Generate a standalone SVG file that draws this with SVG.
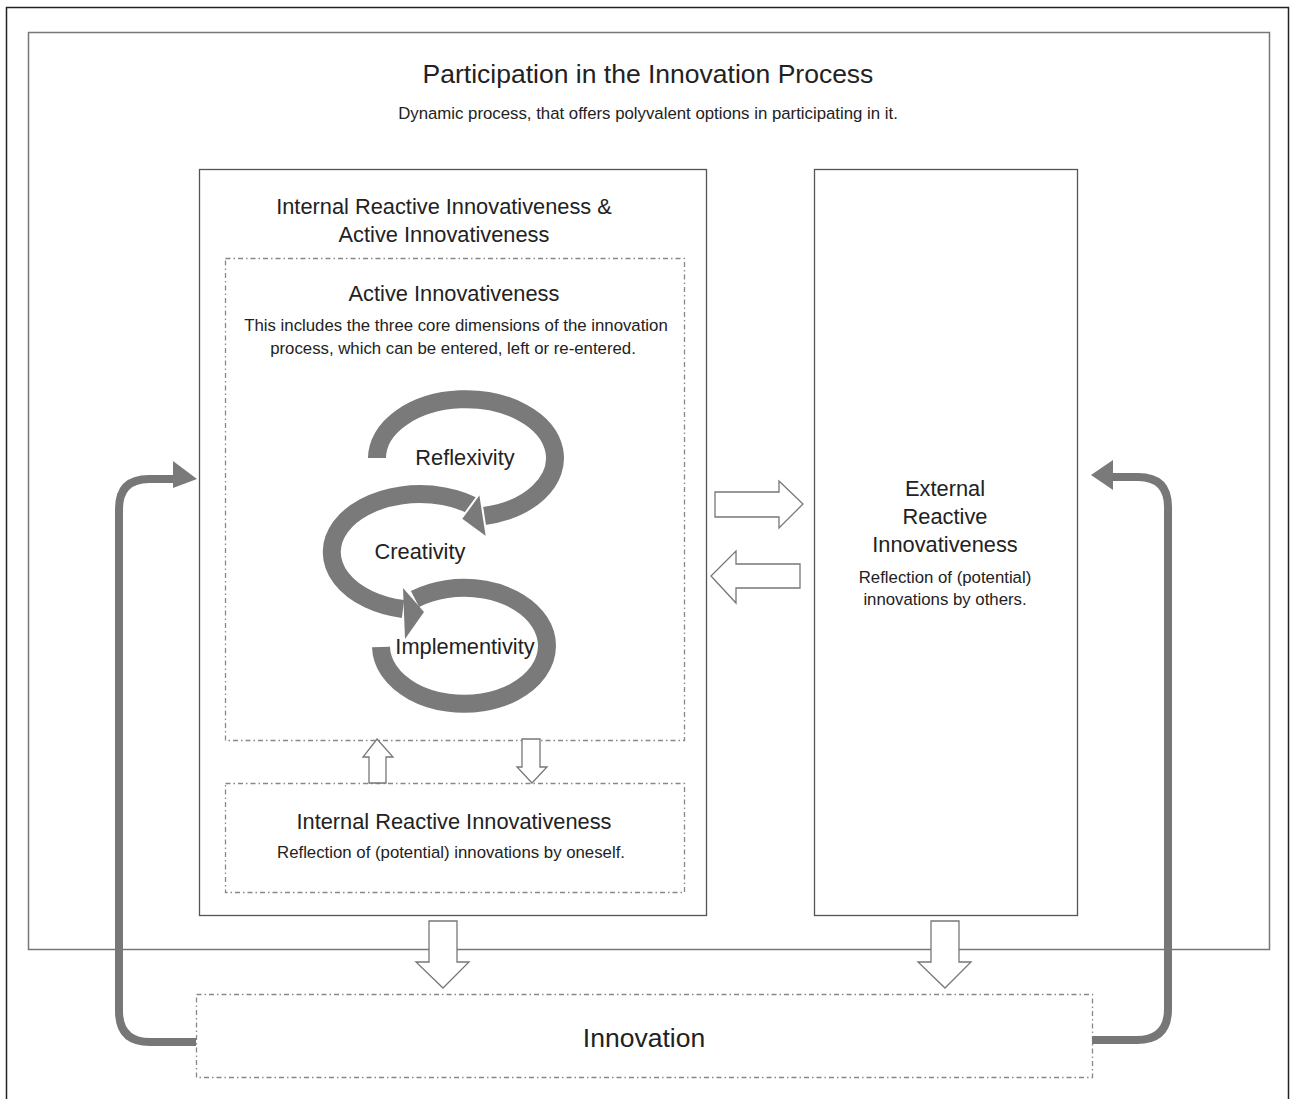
<svg xmlns="http://www.w3.org/2000/svg" width="1290" height="1099" viewBox="0 0 1290 1099">
<style>
text{font-family:"Liberation Sans",Arial,sans-serif;fill:#222;text-anchor:middle}
.t24{font-size:26.5px}
.t20{font-size:21.8px}
.t15{font-size:16.8px}
.box{fill:#fff;stroke:#555;stroke-width:1.3}
.dash{fill:none;stroke:#888;stroke-width:1.3;stroke-dasharray:5 3 1.5 3}
.blk{fill:#fff;stroke:#777;stroke-width:1.3;stroke-linejoin:miter}
.spiral{fill:none;stroke:#7a7a7a;stroke-width:18}
.head{fill:#7a7a7a}
.loop{fill:none;stroke:#777;stroke-width:8;stroke-linejoin:round}
</style>
<rect x="0" y="0" width="1290" height="1099" fill="#fff"/>
<path d="M6.5 1099 V7.5 H1288.5 V1099" fill="none" stroke="#222" stroke-width="1.5"/>
<g id="process">
<rect x="28.5" y="32.5" width="1241" height="917" fill="#fff" stroke="#777" stroke-width="1.5"/>
<text class="t24" x="648" y="83">Participation in the Innovation Process</text>
<text class="t15" x="648" y="119">Dynamic process, that offers polyvalent options in participating in it.</text>
</g>
<g id="internal-active">
<rect class="box" x="199.5" y="169.5" width="507" height="746"/>
<text class="t20" x="444" y="214">Internal Reactive Innovativeness &amp;</text>
<text class="t20" x="444" y="242">Active Innovativeness</text>
</g>
<g id="active">
<rect class="dash" x="225.5" y="258.5" width="459" height="482"/>
<text class="t20" x="454" y="301">Active Innovativeness</text>
<text class="t15" x="456" y="331">This includes the three core dimensions of the innovation</text>
<text class="t15" x="453" y="354">process, which can be entered, left or re-entered.</text>
</g>
<g id="spiral">
<path class="spiral" d="M477 508 A88 58 0 1 0 403 609"/>
<path class="spiral" d="M377 458 A89 59 0 1 1 484 516"/>
<polygon class="head" points="480,493 487,538 461,519" stroke="#fff" stroke-width="2"/>
<polygon class="head" points="403,588 405,639 424,612"/>
<path class="spiral" d="M415 599 A83 58 0 1 1 381 647"/>
<text class="t20" x="465" y="465">Reflexivity</text>
<text class="t20" x="420" y="559">Creativity</text>
<text class="t20" x="465" y="654">Implementivity</text>
</g>
<g id="internal-reactive">
<rect class="dash" x="225.5" y="783.5" width="459" height="109"/>
<text class="t20" x="454" y="829">Internal Reactive Innovativeness</text>
<text class="t15" x="451" y="858">Reflection of (potential) innovations by oneself.</text>
</g>
<g id="external">
<rect class="box" x="814.5" y="169.5" width="263" height="746"/>
<text class="t20" x="945" y="496">External</text>
<text class="t20" x="945" y="524">Reactive</text>
<text class="t20" x="945" y="552">Innovativeness</text>
<text class="t15" x="945" y="583">Reflection of (potential)</text>
<text class="t15" x="945" y="605">innovations by others.</text>
</g>
<g id="innovation">
<rect class="dash" x="196.5" y="994.5" width="896" height="83" fill="#fff"/>
<text class="t24" x="644" y="1047">Innovation</text>
</g>
<g id="connectors">
<polygon class="blk" points="715,492 779,492 779,481 803,504 779,528 779,517 715,517"/>
<polygon class="blk" points="800,564 736,564 736,551 711,576 736,603 736,588 800,588"/>
<polygon class="blk" points="369,783 369,757 363,757 377,739 393,757 386,757 386,783"/>
<polygon class="blk" points="522,739 540,739 540,767 547,767 532,783 517,767 522,767"/>
<polygon class="blk" points="429,921 457,921 457,962 469,962 443,988 416,962 429,962"/>
<polygon class="blk" points="931,921 959,921 959,962 971,962 945,988 918,962 931,962"/>
<path class="loop" d="M196 1042 H150 Q119 1042 119 1011 V509 Q119 479 149 479 H178"/>
<polygon class="head" points="173,461 197,479 173,488"/>
<path class="loop" d="M1092 1040 H1137 Q1168 1040 1168 1009 V507 Q1168 477 1138 477 H1110"/>
<polygon class="head" points="1113,460 1091,475 1113,490"/>
</g>
</svg>
